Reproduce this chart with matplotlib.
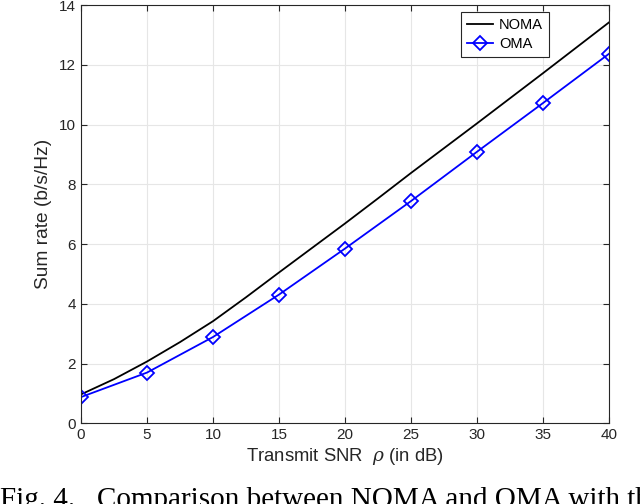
import matplotlib
matplotlib.use('Agg')
import matplotlib.pyplot as plt

# values
snr_noma = [0, 2.5, 5, 7.5, 10, 12.5, 15, 17.5, 20, 22.5, 25, 27.5, 30, 32.5, 35, 37.5, 40]
rate_noma = [0.97, 1.48, 2.07, 2.72, 3.42, 4.22, 5.05, 5.87, 6.69, 7.53, 8.38, 9.21,
             10.04, 10.88, 11.72, 12.57, 13.42]
snr_oma = [0, 5, 10, 15, 20, 25, 30, 35, 40]
rate_oma = [0.88, 1.70, 2.89, 4.31, 5.85, 7.44, 9.09, 10.72, 12.37]

xticks = list(range(0, 45, 5))
yticks = list(range(0, 16, 2))

plt.rcParams['font.family'] = ['Liberation Sans', 'DejaVu Sans']
plt.rcParams['mathtext.fontset'] = 'dejavuserif'

fig = plt.figure(figsize=(6.4, 5.04), dpi=100)
ax = fig.add_axes([0.1266, 0.160, 0.825, 0.830])

ax.plot(snr_noma, rate_noma, color='black', lw=1.3, label='NOMA')
ax.plot(snr_oma, rate_oma, color='#0000ff', lw=1.3, marker='D', markersize=7,
        markerfacecolor='none', markeredgewidth=1.3, label='OMA')

ax.set_xlim(0, 40)
ax.set_ylim(0, 14)
ax.set_xticks(xticks)
ax.set_yticks(yticks)
ax.grid(True, color='#e6e6e6', lw=0.8)
ax.set_axisbelow(True)
ax.tick_params(direction='in', top=True, right=True, labelsize=11,
               color='#262626', labelcolor='#262626', length=4)
for s in ax.spines.values():
    s.set_color('#262626')
    s.set_linewidth(0.8)

ax.set_xlabel(r'Transmit SNR  $\rho$ (in dB)', fontsize=13.3, color='#262626', labelpad=3)
ax.set_ylabel('Sum rate (b/s/Hz)', fontsize=13.8, color='#262626', labelpad=5)

leg = ax.legend(loc='upper right', bbox_to_anchor=(549 / 640, 1 - 12 / 504),
                bbox_transform=fig.transFigure, fancybox=False, framealpha=1,
                edgecolor='#262626', fontsize=10.5, handlelength=1.8,
                borderaxespad=0, borderpad=0.4, labelspacing=0.35, handletextpad=0.4)
leg.get_frame().set_linewidth(0.8)

# caption of the paper, cut by the bottom edge
fig.text(0.0, -3 / 504, 'Fig. 4.   Comparison between NOMA and OMA with the',
         family=['Liberation Serif', 'DejaVu Serif'], fontsize=21, va='baseline', ha='left')

fig.savefig('out.png', dpi=100)
